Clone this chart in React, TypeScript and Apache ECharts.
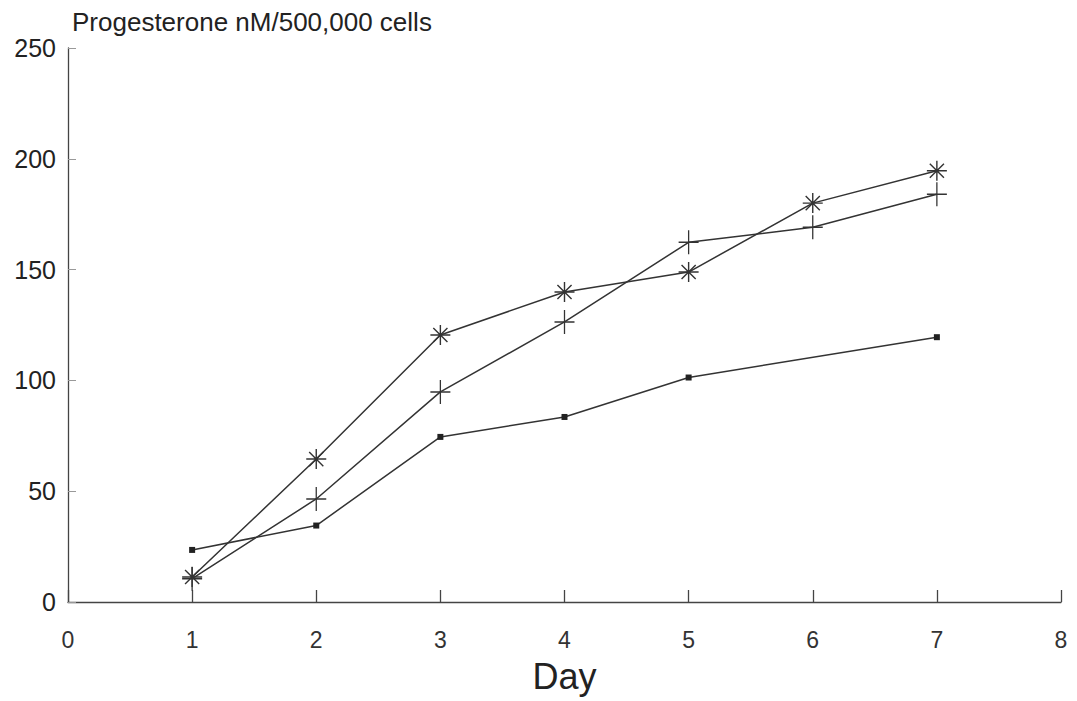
import React, { useEffect, useRef } from "react";
import * as echarts from "echarts";

const days = [1, 2, 3, 4, 5, 6, 7];
const squareSeries: (number | null)[] = [23.5, 34.5, 74.5, 83.5, 101.3, null, 119.5];
const plusSeries = [10.5, 46.5, 94.8, 126.4, 162.3, 169.1, 184];
const asteriskSeries = [11.3, 64.5, 120.5, 139.9, 148.9, 180, 194.6];

const yAxisTitle = "Progesterone nM/500,000 cells";
const xAxisTitle = "Day";

const asteriskPath =
  "path://M10,0L10,20M0,10L20,10M2.93,2.93L17.07,17.07M2.93,17.07L17.07,2.93";
const plusPath = "path://M10,0L10,22M1,11L19,11";

function pairs(vals: (number | null)[]) {
  return days.map((d, i) => (vals[i] == null ? null : [d, vals[i]])).filter((p) => p !== null);
}

export default function App() {
  const ref = useRef<HTMLDivElement>(null);
  useEffect(() => {
    if (!ref.current) return;
    const chart = echarts.init(ref.current, null, { renderer: "svg" });
    const font = "'Liberation Sans', Arial, Helvetica, sans-serif";
    const lineColor = "#333";
    chart.setOption({
      animation: false,
      backgroundColor: "#fff",
      grid: { left: 68, right: 16, top: 48, bottom: 99 },
      xAxis: {
        type: "value",
        min: 0,
        max: 8,
        interval: 1,
        name: xAxisTitle,
        nameLocation: "middle",
        nameGap: 56,
        nameTextStyle: { fontFamily: font, fontSize: 36, color: "#222" },
        axisLine: { show: true, lineStyle: { color: "#444", width: 1.3 } },
        axisTick: { show: true, inside: true, length: 12, lineStyle: { color: "#444", width: 1.3 } },
        axisLabel: { fontFamily: font, fontSize: 23, color: "#333", margin: 26 },
        splitLine: { show: false },
      },
      yAxis: {
        type: "value",
        min: 0,
        max: 250,
        interval: 50,
        name: yAxisTitle,
        nameLocation: "end",
        nameGap: 13,
        nameTextStyle: {
          fontFamily: font,
          fontSize: 26,
          color: "#222",
          align: "left",
          verticalAlign: "bottom",
          padding: [0, 0, 0, 4],
        },
        axisLine: { show: true, lineStyle: { color: "#444", width: 1.3 } },
        axisTick: { show: true, inside: true, length: 8, lineStyle: { color: "#999", width: 1 } },
        axisLabel: { fontFamily: font, fontSize: 25, color: "#222", margin: 12 },
        splitLine: { show: false },
      },
      series: [
        {
          type: "line",
          data: pairs(squareSeries),
          symbol: "rect",
          symbolSize: 6,
          lineStyle: { color: lineColor, width: 1.5 },
          itemStyle: { color: "#222" },
        },
        {
          type: "line",
          data: pairs(plusSeries),
          symbol: plusPath,
          symbolSize: [20, 24],
          symbolKeepAspect: false,
          lineStyle: { color: lineColor, width: 1.5 },
          itemStyle: { color: "none", borderColor: "#333", borderWidth: 1.4 },
        },
        {
          type: "line",
          data: pairs(asteriskSeries),
          symbol: asteriskPath,
          symbolSize: 20,
          lineStyle: { color: lineColor, width: 1.5 },
          itemStyle: { color: "none", borderColor: "#333", borderWidth: 1.4 },
        },
      ],
    });
    return () => chart.dispose();
  }, []);
  return (
    <div
      ref={ref}
      style={{ position: "fixed", left: 0, top: 0, width: 1077, height: 701, background: "#fff" }}
    />
  );
}
